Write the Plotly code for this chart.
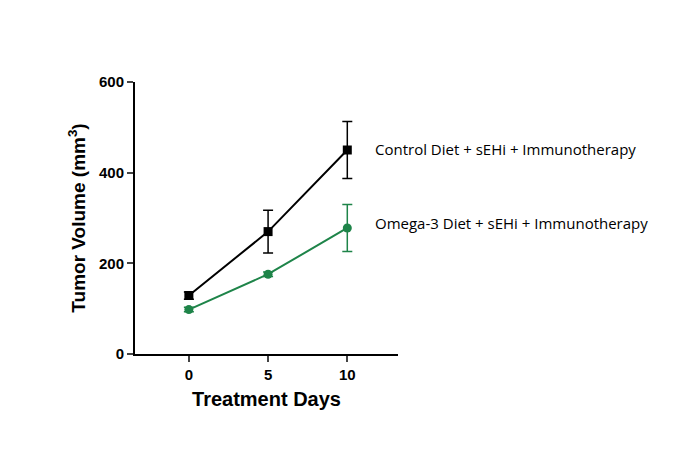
import plotly.graph_objects as go

days = [0, 5, 10]
control = [129, 270, 450]
control_err = [8, 47, 63]
omega = [98, 176, 278]
omega_err = [5, 5, 52]
labels = ["Control Diet + sEHi + Immunotherapy", "Omega-3 Diet + sEHi + Immunotherapy"]

fig = go.Figure()
fig.add_trace(go.Scatter(x=days, y=control, mode="lines+markers",
    line=dict(color="black", width=2), marker=dict(symbol="square", size=9, color="black"),
    error_y=dict(type="data", array=control_err, color="black", thickness=1.5, width=5)))
fig.add_trace(go.Scatter(x=days, y=omega, mode="lines+markers",
    line=dict(color="#1e8449", width=2), marker=dict(symbol="circle", size=9, color="#1e8449"),
    error_y=dict(type="data", array=omega_err, color="#1e8449", thickness=1.5, width=5)))

fig.add_annotation(x=11.6, xref="x", y=control[-1] + 3, yref="y", text=labels[0],
    showarrow=False, xanchor="left", font=dict(size=15, color="black", family="Open Sans"))
fig.add_annotation(x=11.6, xref="x", y=omega[-1] + 10, yref="y", text=labels[1],
    showarrow=False, xanchor="left", font=dict(size=15, color="black", family="Open Sans"))

fig.update_layout(
    width=700, height=451, showlegend=False, plot_bgcolor="white", paper_bgcolor="white",
    margin=dict(l=127, r=310, t=74, b=105),
    font=dict(family="Liberation Sans, Arial", color="black"),
    xaxis=dict(range=[-3.4, 13.2], tickvals=days, showline=True, linecolor="black", linewidth=2,
        ticks="outside", ticklen=6, tickwidth=2, showgrid=False, zeroline=False,
        tickfont=dict(size=15, weight="bold"),
        title=dict(text="<b>Treatment Days</b>", font=dict(size=20), standoff=10)),
    yaxis=dict(range=[0, 600], tickvals=[0, 200, 400, 600], showline=True, linecolor="black", linewidth=2,
        ticks="outside", ticklen=6, tickwidth=2, showgrid=False, zeroline=False,
        tickfont=dict(size=15, weight="bold"),
        title=dict(text="<b>Tumor Volume (mm<sup>3</sup>)</b>", font=dict(size=19), standoff=8)),
)
fig.write_html("out.html")
